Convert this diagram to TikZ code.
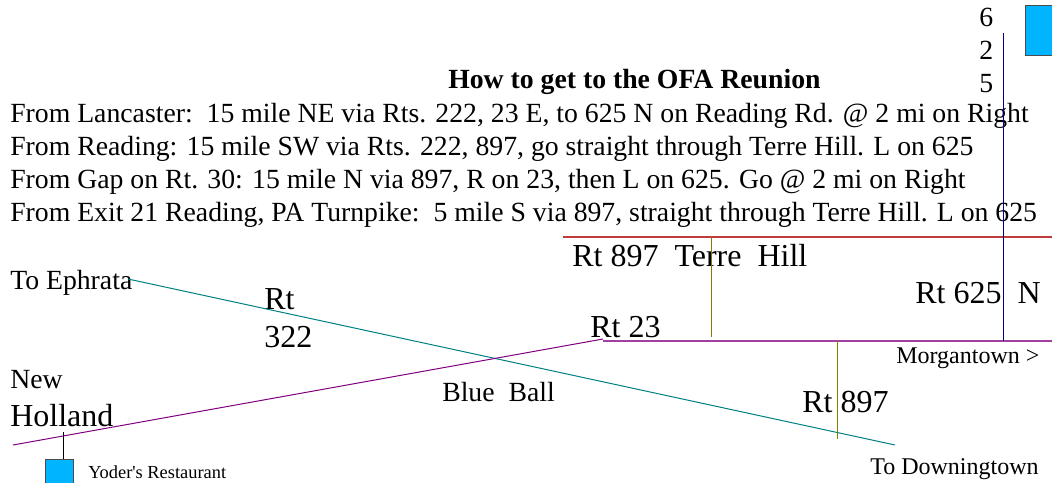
\documentclass[tikz,border=0pt]{standalone}
\usepackage{fontspec}
\setmainfont{Liberation Serif}
\usepackage{tikz}
\definecolor{roadteal}{RGB}{0,128,128}
\definecolor{roadpurple}{RGB}{128,0,128}
\definecolor{roadred}{RGB}{190,60,60}
\definecolor{roadolive}{RGB}{128,128,0}
\definecolor{roadnavy}{RGB}{0,0,128}
\definecolor{shopblue}{RGB}{0,180,255}
\newcommand{\fs}[1]{\fontsize{#1}{#1}\selectfont}
\tikzset{
lbl/.style={inner sep=0, anchor=base west},
road/.style={line width=0.75pt},
flatroad/.style={line width=1.1pt},
shop/.style={draw=black!70, fill=shopblue, line width=0.7pt, inner sep=0, minimum width=21pt, minimum height=37.5pt, anchor=north west},
}

\begin{document}
\begin{tikzpicture}[x=0.75pt,y=-0.75pt]
\clip (0,0) rectangle (1052,482);
\fill[white] (0,0) rectangle (1052,482);
% directions
\node [lbl, font=\fs{20.8}\bfseries] (title) at (448,88) {How to get to the OFA Reunion};
\node [lbl, font=\fs{20.8}] (dir1) at (10,122) {From Lancaster:\ \ 15 mile NE via Rts. 222, 23 E, to 625 N on Reading Rd. @ 2 mi on Right};
\node [lbl, font=\fs{20.8}] (dir2) at (10,155) {From Reading: 15 mile SW via Rts. 222, 897, go straight through Terre Hill. L on 625};
\node [lbl, font=\fs{20.8}] (dir3) at (10,188) {From Gap on Rt. 30: 15 mile N via 897, R on 23, then L on 625. Go @ 2 mi on Right};
\node [lbl, font=\fs{20.8}] (dir4) at (10,221) {From Exit 21 Reading, PA Turnpike:\ \ 5 mile S via 897, straight through Terre Hill. L on 625};
\node [lbl, font=\fs{20.8}] (six) at (979,26) {6};
\node [lbl, font=\fs{20.8}] (two) at (979,59) {2};
\node [lbl, font=\fs{20.8}] (five) at (979,92) {5};
% places
\node [lbl, font=\fs{20.8}] (ephrata) at (10,289) {To Ephrata};
\node [lbl, font=\fs{20.8}] (new) at (10,388) {New};
\node [lbl, font=\fs{24}] (holland) at (10,426) {Holland};
\node [lbl, font=\fs{24}] (rt1) at (264,309) {Rt};
\node [lbl, font=\fs{24}] (rt2) at (264,347) {322};
\node [lbl, font=\fs{20.8}] (ball) at (442,401) {Blue\ \ Ball};
\node [lbl, font=\fs{24}] (terre) at (572,266) {Rt 897\ \ Terre\ \ Hill};
\node [lbl, font=\fs{24}] (rt23) at (590,337) {Rt 23};
\node [lbl, font=\fs{24}] (rt625) at (915,303) {Rt 625\ \ N};
\node [lbl, font=\fs{24}] (rt897) at (802,412) {Rt 897};
\node [lbl, font=\fs{18}] (morgan) at (896,363) {Morgantown >};
\node [lbl, font=\fs{18}] (down) at (870,474) {To Downingtown};
\node [lbl, font=\fs{13.8}] (yoderlbl) at (88,478) {Yoder\textquotesingle s Restaurant};
% shops
\node [shop] (yoder) at (45,459) {};
\node [shop] (farm) at (1025,5) {};
% roads
\coordinate (teala) at (128,279);
\coordinate (tealb) at (895,445);
\coordinate (purpa) at (13,445);
\coordinate (purpb) at (603,339);
\coordinate (purpc) at (1052,341);
\coordinate (purpd) at (603,341);
\coordinate (reda) at (563,237);
\coordinate (redb) at (1052,237);
\coordinate (navya) at (1003,33);
\coordinate (navyb) at (1003,341);
\coordinate (olivea) at (711,237);
\coordinate (oliveb) at (711,337);
\coordinate (olivec) at (837,341);
\coordinate (olived) at (837,439);
\coordinate (stub) at (63,432);
\draw [road, roadteal] (teala) -- (tealb);
\draw [road, roadpurple] (purpa) -- (purpb);
\draw [flatroad, roadpurple!75] (purpd) -- (purpc);
\draw [flatroad, roadred] (reda) -- (redb);
\draw [road, roadnavy] (navya) -- (navyb);
\draw [road, roadolive] (olivea) -- (oliveb);
\draw [road, roadolive] (olivec) -- (olived);
\draw [road, black] (stub) -- (stub |- yoder.north);
\end{tikzpicture}
\end{document}
